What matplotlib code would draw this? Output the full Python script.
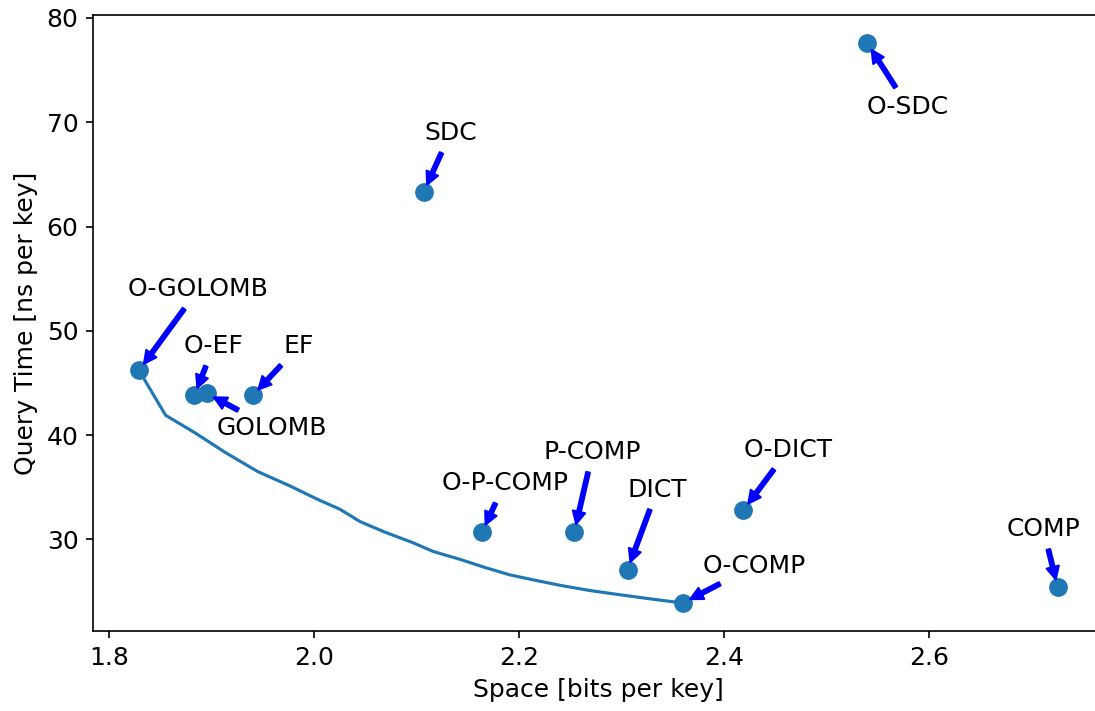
import numpy as np
import matplotlib
matplotlib.use("Agg")
import matplotlib.pyplot as plt

plt.rcParams["font.size"] = 12

# points (space in bits per key, query time in ns per key)
names = ["O-GOLOMB", "O-EF", "GOLOMB", "EF", "SDC", "O-SDC",
         "O-P-COMP", "P-COMP", "DICT", "O-COMP", "O-DICT", "COMP"]
space = [1.829, 1.883, 1.895, 1.940, 2.107, 2.540,
         2.164, 2.254, 2.306, 2.360, 2.419, 2.726]
query = [46.2, 43.8, 44.0, 43.8, 63.3, 77.6,
         30.7, 30.7, 27.1, 23.9, 32.8, 25.4]

# label positions (center x, baseline y)
label_x = [1.887, 1.902, 1.959, 1.985, 2.133, 2.580,
           2.186, 2.272, 2.335, 2.430, 2.463, 2.712]
label_y = [53.3, 47.85, 40.0, 47.85, 68.3, 70.8,
           34.7, 37.7, 34.1, 26.8, 37.9, 30.3]

# pareto curve
front_x = [1.829, 1.855, 1.884, 1.913, 1.945, 1.977, 2.002, 2.025, 2.045, 2.069, 2.096,
           2.116, 2.142, 2.167, 2.191, 2.215, 2.240, 2.269, 2.298, 2.328, 2.360]
front_y = [46.2, 41.9, 40.2, 38.35, 36.5, 35.1, 33.9, 32.9, 31.7, 30.7, 29.7,
           28.85, 28.1, 27.3, 26.6, 26.1, 25.6, 25.1, 24.7, 24.3, 23.9]

fig = plt.figure(figsize=(7.3, 4.74), dpi=150)
ax = fig.add_axes([0.085, 0.1125, 1.0079 - 0.085, 0.9789 - 0.1125])

ax.plot(front_x, front_y, color="#1f77b4")
ax.scatter(space, query, s=64, color="#1f77b4", zorder=3)

for n, x, y, tx, ty in zip(names, space, query, label_x, label_y):
    ax.annotate(n, xy=(x, y), xytext=(tx, ty), ha="center", va="baseline", fontsize=12,
                arrowprops=dict(arrowstyle="simple,head_length=0.5,head_width=0.5,tail_width=0.15",
                                color="blue", shrinkA=2, shrinkB=4))

ax.set_xlabel("Space [bits per key]")
ax.set_ylabel("Query Time [ns per key]")

fig.savefig("out.png", dpi=150)
